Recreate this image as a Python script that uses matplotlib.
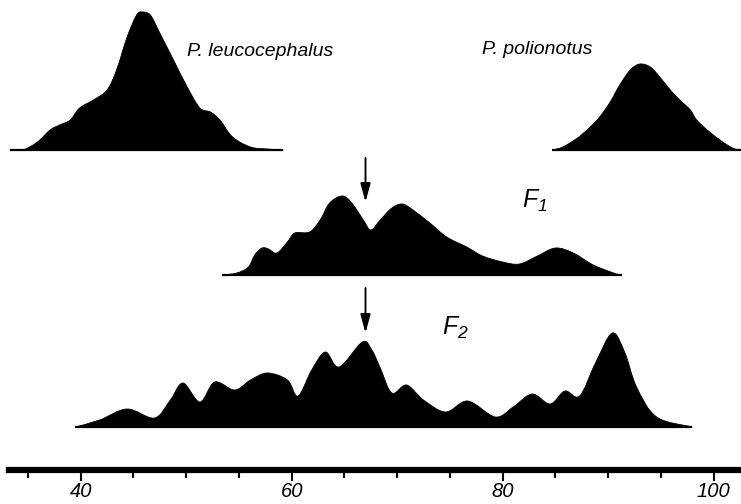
import matplotlib
matplotlib.use("Agg")
import matplotlib.pyplot as plt
from matplotlib.path import Path
from matplotlib.patches import PathPatch

plt.rcParams['font.family'] = ['Liberation Sans', 'DejaVu Sans']
plt.rcParams['mathtext.fontset'] = 'custom'
plt.rcParams['mathtext.it'] = 'Liberation Sans:italic'
plt.rcParams['mathtext.rm'] = 'Liberation Sans:italic'

# P. leucocephalus
leuco_x = [33.3, 34.5, 35.9, 37.1, 38.0, 39.0, 39.9, 41.2, 42.5, 43.4, 44.4, 45.3,
           45.8, 46.6, 47.5, 48.8, 50.1, 51.3, 52.3, 53.2, 54.4, 56.1, 57.7, 59.2]
leuco_h = [0, 0, 8, 20, 25, 30, 42, 50, 60, 80, 113, 135,
           138, 135, 117, 90, 63, 42, 38, 30, 13, 3, 1, 0]

# P. polionotus
polio_x = [84.7, 85.7, 87.1, 88.3, 89.2, 90.2, 91.1, 92.1, 93.0, 94.0, 94.9, 95.9,
           96.8, 97.8, 98.4, 99.4, 100.6, 101.8, 102.6]
polio_h = [0, 3, 12, 23, 33, 48, 65, 80, 86, 83, 73, 60,
           50, 40, 30, 20, 10, 2, 0]

# F1
f1_x = [53.4, 54.8, 55.9, 56.5, 57.2, 57.8, 58.6, 59.6, 60.3, 61.7, 62.7, 63.6,
        64.8, 65.7, 66.8, 67.5, 68.4, 69.5, 70.5, 71.5, 73.1, 74.7, 76.6, 78.1,
        80.0, 81.6, 83.3, 85.0, 86.7, 88.6, 90.8, 91.3]
f1_h = [0, 2, 8, 20, 27, 26, 22, 33, 42, 43, 55, 72,
        79, 72, 55, 45, 55, 67, 71, 65, 52, 38, 28, 19,
        13, 11, 19, 27, 22, 10, 1, 0]

# F2
f2_x = [39.5, 41.8, 44.4, 47.0, 48.5, 49.7, 51.3, 52.7, 54.6, 56.1, 57.7, 59.6,
        60.6, 61.9, 63.2, 64.5, 66.7, 67.6, 68.4, 69.5, 70.9, 72.5, 74.6, 76.7,
        79.3, 81.0, 82.8, 84.5, 85.9, 87.3, 88.8, 90.4, 91.6, 92.7, 94.6, 98.0]
f2_h = [0, 7, 18, 9, 27, 44, 25, 45, 37, 47, 54, 47,
        31, 57, 75, 60, 85, 77, 59, 34, 42, 27, 15, 26,
        10, 20, 33, 23, 36, 31, 64, 94, 74, 40, 10, 0]

xticks = [40, 60, 80, 100]
minor_ticks = [35, 45, 50, 55, 65, 70, 75, 85, 90, 95]


def smooth_shape(xs, hs, base):
    # catmull-rom through the points, turned into bezier segments
    pts = [(x, base + h) for x, h in zip(xs, hs)]
    n = len(pts)
    verts = [pts[0]]
    codes = [Path.MOVETO]
    for i in range(n - 1):
        p0 = pts[max(i - 1, 0)]
        p1 = pts[i]
        p2 = pts[i + 1]
        p3 = pts[min(i + 2, n - 1)]
        c1 = (p1[0] + (p2[0] - p0[0]) / 6, p1[1] + (p2[1] - p0[1]) / 6)
        c2 = (p2[0] - (p3[0] - p1[0]) / 6, p2[1] - (p3[1] - p1[1]) / 6)
        verts += [c1, c2, p2]
        codes += [Path.CURVE4] * 3
    verts += [(xs[-1], base), (xs[0], base), pts[0]]
    codes += [Path.LINETO, Path.LINETO, Path.CLOSEPOLY]
    return Path(verts, codes)


fig = plt.figure(figsize=(7.41, 5.04), dpi=100)
ax = fig.add_axes([0, 0, 1, 1])
ax.set_xlim(32.35, 102.6)
ax.set_ylim(0, 504)

rows = [(leuco_x, leuco_h, 354), (polio_x, polio_h, 354),
        (f1_x, f1_h, 229), (f2_x, f2_h, 77)]
for xs, hs, base in rows:
    ax.add_patch(PathPatch(smooth_shape(xs, hs, base), facecolor='black',
                           edgecolor='black', lw=0.6))
    ax.plot([xs[0], xs[-1]], [base, base], color='black', lw=1.6,
            solid_capstyle='butt')

ax.text(50.1, 453, 'P. leucocephalus', fontsize=14, style='italic',
        va='center', ha='left')
ax.text(78.0, 454, 'P. polionotus', fontsize=14, style='italic',
        va='center', ha='left')
ax.text(81.8, 303, '$F_1$', fontsize=18, va='center', ha='left')
ax.text(74.3, 176, '$F_2$', fontsize=18, va='center', ha='left')

# arrows marking the midparent value
arrow = dict(arrowstyle='-|>,head_length=1.1,head_width=0.3', color='black',
             lw=1.4, shrinkA=0, shrinkB=0)
ax.annotate('', xy=(67.0, 302), xytext=(67.0, 346), arrowprops=arrow)
ax.annotate('', xy=(67.0, 171), xytext=(67.0, 216), arrowprops=arrow)

for s in ['top', 'left', 'right']:
    ax.spines[s].set_visible(False)
ax.spines['bottom'].set_position(('data', 34))
ax.spines['bottom'].set_linewidth(4.5)
ax.spines['bottom'].set_bounds(33.2, 102.6)
ax.set_yticks([])
ax.set_xticks(xticks)
ax.set_xticklabels([str(t) for t in xticks])
ax.set_xticks(minor_ticks, minor=True)
ax.tick_params(axis='x', which='major', length=8, width=1.5, pad=0.5,
               labelsize=14.5)
ax.tick_params(axis='x', which='minor', length=5.5, width=1.5)
for lab in ax.get_xticklabels():
    lab.set_style('italic')

fig.savefig('out.png', dpi=100)
